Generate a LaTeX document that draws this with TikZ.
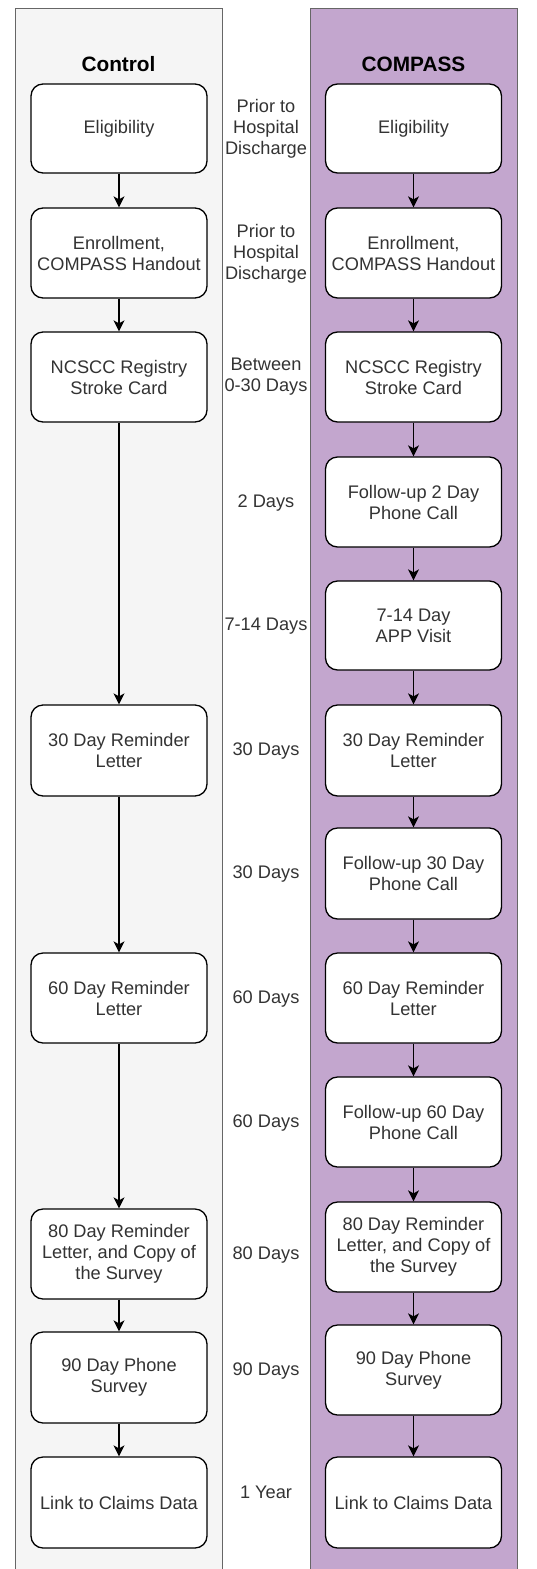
\documentclass[tikz,border=0pt]{standalone}
\usepackage{fontspec}
\setmainfont{Liberation Sans}
\usetikzlibrary{arrows.meta}
\definecolor{lanegray}{HTML}{F5F5F5}
\definecolor{laneborder}{HTML}{666666}
\definecolor{lanepurple}{HTML}{C3A6CE}
\definecolor{txt}{HTML}{333333}
\tikzset{
  lane/.style={draw=laneborder, line width=1pt},
  box/.style={draw=black, fill=white, rounded corners=12pt, line width=1.3pt,
    minimum width=176pt, inner sep=0pt, align=center, text=txt,
    font=\fontsize{18.2pt}{21pt}\selectfont},
  lbl/.style={align=center, text=txt, inner sep=0pt,
    font=\fontsize{18.2pt}{21pt}\selectfont},
  hdr/.style={inner sep=0pt, font=\fontsize{20.8pt}{24pt}\selectfont\bfseries},
  arr/.style={draw=black, line width=1.3pt, -{Stealth[length=11pt,width=11pt,inset=3pt]}}
}
\begin{document}
\begin{tikzpicture}[x=1pt,y=-1pt]
\useasboundingbox (0,0) rectangle (537,1569);
\begin{scope}
\clip (0,0) rectangle (537,1569);
\draw[lane, fill=lanegray] (15,8) rectangle (222,1590);
\draw[lane, fill=lanepurple] (310,8) rectangle (517,1590);
\end{scope}
\node[hdr] (hc) at (118.5,64) {Control};
\node[hdr] (hp) at (413.5,64) {COMPASS};
% left column
\node[box, minimum height=89pt] (L1) at (119,128.5) {Eligibility};
\node[box, minimum height=90pt] (L2) at (119,253) {Enrollment,\\COMPASS Handout};
\node[box, minimum height=90pt] (L3) at (119,377) {NCSCC Registry\\Stroke Card};
\node[box, minimum height=91pt] (L4) at (119,750.5) {30 Day Reminder\\Letter};
\node[box, minimum height=90pt] (L5) at (119,998) {60 Day Reminder\\Letter};
\node[box, minimum height=90pt] (L6) at (119,1254) {80 Day Reminder\\Letter, and Copy of\\the Survey};
\node[box, minimum height=91pt] (L7) at (119,1377.5) {90 Day Phone\\Survey};
\node[box, minimum height=91pt] (L8) at (119,1502.5) {Link to Claims Data};
% right column
\node[box, minimum height=89pt] (R1) at (413.5,128.5) {Eligibility};
\node[box, minimum height=90pt] (R2) at (413.5,253) {Enrollment,\\COMPASS Handout};
\node[box, minimum height=90pt] (R3) at (413.5,377) {NCSCC Registry\\Stroke Card};
\node[box, minimum height=90pt] (R4) at (413.5,502) {Follow-up 2 Day\\Phone Call};
\node[box, minimum height=89pt] (R5) at (413.5,625.5) {7-14 Day\\APP Visit};
\node[box, minimum height=91pt] (R6) at (413.5,750.5) {30 Day Reminder\\Letter};
\node[box, minimum height=91pt] (R7) at (413.5,873.5) {Follow-up 30 Day\\Phone Call};
\node[box, minimum height=90pt] (R8) at (413.5,998) {60 Day Reminder\\Letter};
\node[box, minimum height=90pt] (R9) at (413.5,1122) {Follow-up 60 Day\\Phone Call};
\node[box, minimum height=90pt] (R10) at (413.5,1247) {80 Day Reminder\\Letter, and Copy of\\the Survey};
\node[box, minimum height=90pt] (R11) at (413.5,1370) {90 Day Phone\\Survey};
\node[box, minimum height=91pt] (R12) at (413.5,1502.5) {Link to Claims Data};
% time labels
\node[lbl] (t1) at (266,129) {Prior to\\Hospital\\Discharge};
\node[lbl] (t2) at (266,254) {Prior to\\Hospital\\Discharge};
\node[lbl] (t3) at (266,377) {Between\\0-30 Days};
\node[lbl] (t4) at (266,503) {2 Days};
\node[lbl] (t5) at (266,626) {7-14 Days};
\node[lbl] (t6) at (266,751) {30 Days};
\node[lbl] (t7) at (266,874) {30 Days};
\node[lbl] (t8) at (266,999) {60 Days};
\node[lbl] (t9) at (266,1123) {60 Days};
\node[lbl] (t10) at (266,1255) {80 Days};
\node[lbl] (t11) at (266,1371) {90 Days};
\node[lbl] (t12) at (266,1492) {1 Year};
% connectors
\foreach \a/\b in {L1/L2,L2/L3,L3/L4,L4/L5,L5/L6,L6/L7,L7/L8,
  R1/R2,R2/R3,R3/R4,R4/R5,R5/R6,R6/R7,R7/R8,R8/R9,R9/R10,R10/R11,R11/R12}
  \draw[arr] (\a) -- (\b);
\end{tikzpicture}
\end{document}
